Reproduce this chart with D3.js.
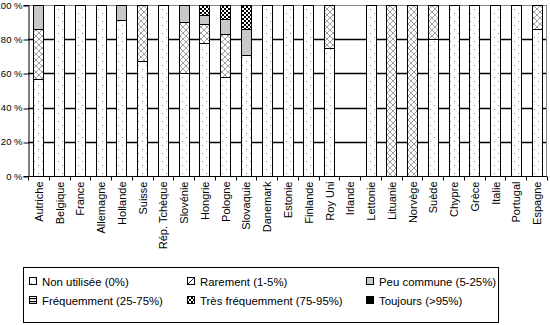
<!DOCTYPE html>
<html><head><meta charset="utf-8">
<script src="https://cdn.jsdelivr.net/npm/d3@7"></script>
<style>body{margin:0;background:#fff}svg{display:block;font-family:"Liberation Sans",Arial,sans-serif}</style>
</head><body><svg id="c" width="550" height="325"></svg>
<script>
const countries = ["Autriche","Belgique","France","Allemagne","Hollande","Suisse","Rép. Tchèque","Slovénie","Hongrie","Pologne","Slovaquie","Danemark","Estonie","Finlande","Roy Uni","Irlande","Lettonie","Lituanie","Norvège","Suède","Chypre","Grèce","Italie","Portugal","Espagne"];
const nonUtilisee     = [57,100,100,100,91,67,100,60,78,58,71,100,100,100,75,0,100,0,0,80,100,100,100,100,86];
const rarement        = [29,0,0,0,0,33,0,30,11,25,0,0,0,0,25,0,0,100,100,20,0,0,0,0,14];
const peuCommune      = [14,0,0,0,9,0,0,10,5,9,15,0,0,0,0,0,0,0,0,0,0,0,0,0,0];
const frequemment     = [0,0,0,0,0,0,0,0,0,0,0,0,0,0,0,0,0,0,0,0,0,0,0,0,0];
const tresFrequemment = [0,0,0,0,0,0,0,0,6,8,14,0,0,0,0,0,0,0,0,0,0,0,0,0,0];
const toujours        = [0,0,0,0,0,0,0,0,0,0,0,0,0,0,0,0,0,0,0,0,0,0,0,0,0];
const seriesNames = ["Non utilisée (0%)","Rarement (1-5%)","Peu commune (5-25%)","Fréquemment (25-75%)","Très fréquemment (75-95%)","Toujours (>95%)"];
const yTicks = [0,20,40,60,80,100];

(function(){
const seriesVals = [nonUtilisee,rarement,peuCommune,frequemment,tresFrequemment,toujours];
const keys = ["s0","s1","s2","s3","s4","s5"];
const rows = countries.map((c,i)=>{const r={country:c}; keys.forEach((k,j)=>r[k]=seriesVals[j][i]); return r;});

const svg = d3.select("#c");
const defs = svg.append("defs");
let p = defs.append("pattern").attr("id","p0").attr("patternUnits","userSpaceOnUse").attr("width",8).attr("height",8);
p.append("rect").attr("width",8).attr("height",8).attr("fill","#fff");
p.append("rect").attr("x",2).attr("y",1).attr("width",1).attr("height",1).attr("fill","#888");
p.append("rect").attr("x",6).attr("y",5).attr("width",1).attr("height",1).attr("fill","#888");
p = defs.append("pattern").attr("id","p1").attr("patternUnits","userSpaceOnUse").attr("width",6).attr("height",6);
p.append("rect").attr("width",6).attr("height",6).attr("fill","#fff");
p.append("path").attr("d","M0,0L6,6M6,0L0,6").attr("stroke","#888").attr("stroke-width",0.8);
p = defs.append("pattern").attr("id","p3").attr("patternUnits","userSpaceOnUse").attr("width",4).attr("height",3);
p.append("rect").attr("width",4).attr("height",3).attr("fill","#fff");
p.append("rect").attr("y",0).attr("width",4).attr("height",1.2).attr("fill","#000");
p = defs.append("pattern").attr("id","p4").attr("patternUnits","userSpaceOnUse").attr("width",4).attr("height",4);
p.append("rect").attr("width",4).attr("height",4).attr("fill","#fff");
p.append("rect").attr("width",2).attr("height",2).attr("fill","#000");
p.append("rect").attr("x",2).attr("y",2).attr("width",2).attr("height",2).attr("fill","#000");
const fills = ["url(#p0)","url(#p1)","#c8c8c8","url(#p3)","url(#p4)","#000"];

const pl = 28, pr = 547, pt = 5, pb = 176;
const x = d3.scaleBand().domain(countries).range([pl,pr]).paddingInner(0.52).paddingOuter(0.26);
const y = d3.scaleLinear().domain([0,100]).range([pb,pt]);

svg.append("g").selectAll("line").data([20,40,60,80]).join("line")
  .attr("x1",pl).attr("x2",pr).attr("y1",d=>Math.round(y(d))+0.5).attr("y2",d=>Math.round(y(d))+0.5)
  .attr("stroke","#000").attr("stroke-width",1.3);
svg.append("path").attr("d",`M${pl},${y(100)+0.5}H${pr-0.5}V${pb}`).attr("fill","none").attr("stroke","#888").attr("stroke-width",1);

const stack = d3.stack().keys(keys)(rows);
svg.append("g").selectAll("g").data(stack).join("g")
  .attr("fill",(d,i)=>fills[i])
  .selectAll("rect").data(d=>d.filter(s=>s[1]-s[0]>0)).join("rect")
  .attr("x",d=>Math.round(x(d.data.country))+0.5).attr("width",Math.round(x.bandwidth()))
  .attr("y",d=>Math.round(y(d[1]))+0.5).attr("height",d=>Math.round(y(d[0]))-Math.round(y(d[1])))
  .attr("stroke","#000").attr("stroke-width",1);

const ya = svg.append("g").attr("transform",`translate(${pl+0.5},0)`)
  .call(d3.axisLeft(y).tickValues(yTicks).tickSize(5).tickPadding(1).tickFormat(d=>d+" %"));
ya.select(".domain").attr("stroke","#000");
ya.selectAll(".tick line").attr("transform",d=>`translate(0,${Math.round(y(d))+0.5-y(d)})`);
ya.selectAll("text").attr("font-size",9.5).attr("font-family","Liberation Sans, Arial").attr("fill","#000");

const xa = svg.append("g").attr("transform",`translate(0,${pb+0.5})`);
xa.append("line").attr("x1",pl).attr("x2",pr).attr("stroke","#000");
const bounds = countries.map(c=>x(c)-x.step()*x.paddingInner()/2).concat([pr]);
xa.selectAll("line.t").data(bounds).join("line").attr("class","t")
  .attr("x1",d=>Math.round(d)+0.5).attr("x2",d=>Math.round(d)+0.5).attr("y1",0).attr("y2",4).attr("stroke","#000");
xa.selectAll("text").data(countries).join("text")
  .attr("transform",d=>`translate(${x(d)+x.bandwidth()/2+4.5},5) rotate(-90)`)
  .attr("text-anchor","end").attr("font-size",11).text(d=>d);

const lg = svg.append("g");
lg.append("rect").attr("x",23.5).attr("y",267.5).attr("width",475).attr("height",55).attr("fill","#fff").attr("stroke","#000");
const colX = [29,187,366], rowY = [282,301];
seriesNames.forEach((n,i)=>{
  const cx = colX[i%3], cy = rowY[Math.floor(i/3)];
  const g = lg.append("g").attr("transform",`translate(${cx},${cy})`);
  g.append("rect").attr("x",0.5).attr("y",-4.5).attr("width",7).attr("height",7)
    .attr("fill", i===1 ? "#fff" : fills[i]).attr("stroke","#000");
  if(i===1) g.append("path").attr("d","M1,2L7,-4").attr("stroke","#000").attr("stroke-width",0.8);
  g.append("text").attr("x",13).attr("y",4).attr("font-size",11.4).text(n);
});
})();
</script></body></html>
